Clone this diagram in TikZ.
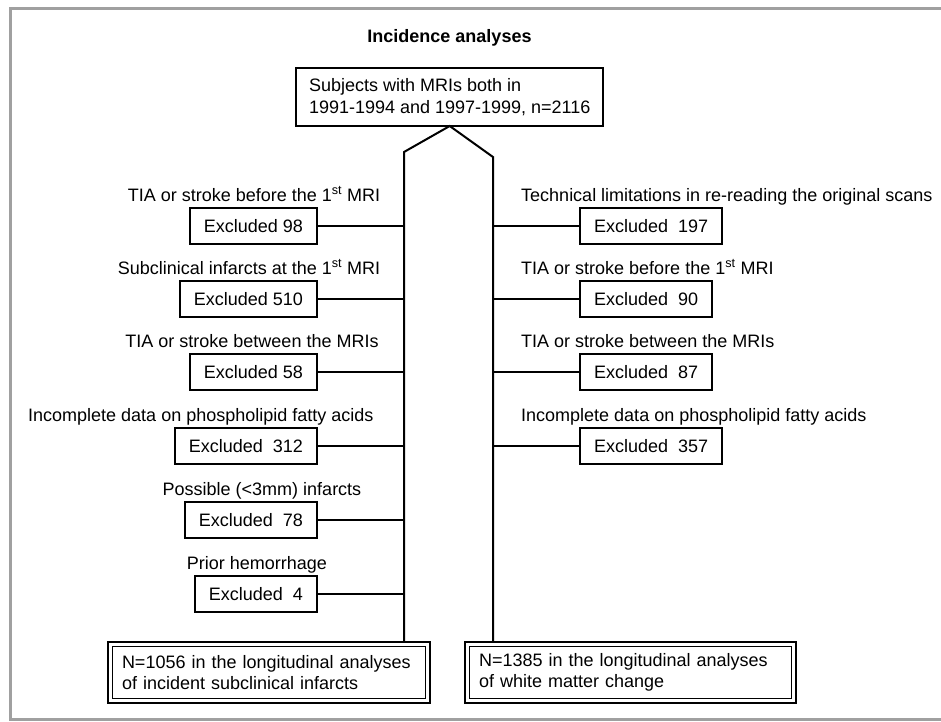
\documentclass[tikz,border=0pt]{standalone}
\usepackage{fontspec}
\setmainfont{Liberation Sans}
\definecolor{framegray}{RGB}{160,160,160}
\tikzset{
  basefont/.style={font=\fontsize{18}{21.5}\selectfont},
  lbl/.style={basefont, inner sep=0pt},
  exbox/.style={basefont, draw, line width=2pt, minimum height=36pt, inner xsep=14pt, inner ysep=0pt, outer sep=0pt},
  conn/.style={line width=2pt},
  bigbox/.style={basefont, draw, line width=2pt, align=left, inner xsep=13pt, anchor=north west, outer sep=0pt},
  endbox/.style={basefont, draw, line width=2pt, align=left, inner xsep=14pt, anchor=north west, outer sep=0pt},
  inner frame/.style={line width=1.4pt}
}
\begin{document}
\begin{tikzpicture}[x=1pt,y=-1pt]
\useasboundingbox (0,0) rectangle (941,721);
\fill[white] (0,0) rectangle (941,721);
% frame
\draw[framegray, line width=3pt] (941,8.5) -- (10.5,8.5) -- (10.5,719.5) -- (941,719.5);

% title
\node[lbl, font=\fontsize{18}{21.5}\selectfont\bfseries, anchor=base] (title) at (449.5,42.5) {Incidence analyses};

% top box
\node[bigbox, minimum height=58pt] (top) at (296,68)
  {Subjects with MRIs both in\\1991-1994 and 1997-1999, n=2116};

% trunk corners
\coordinate (LT) at (404,152);
\coordinate (RT) at (493,157);

% bottom boxes
\node[endbox, minimum width=322pt, minimum height=61pt, text width=294pt] (BL) at (108,642)
  {N=1056 in the longitudinal analyses\\of incident subclinical infarcts};
\node[endbox, minimum width=331pt, minimum height=61pt, text width=303pt] (BR) at (465,642)
  {N=1385 in the longitudinal analyses\\of white matter change};
\draw[inner frame] ([shift={(4.5,4.5)}]BL.north west) rectangle ([shift={(-4.5,-4.5)}]BL.south east);
\draw[inner frame] ([shift={(4.5,4.5)}]BR.north west) rectangle ([shift={(-4.5,-4.5)}]BR.south east);

% trunks
\draw[conn, line join=miter] (LT |- BL.north) -- (LT) -- (top.south) -- (RT) -- (RT |- BR.north);

% left column
\node[exbox, anchor=east] (L1) at (317,226) {Excluded 98};
\node[exbox, anchor=east] (L2) at (317,299) {Excluded 510};
\node[exbox, anchor=east] (L3) at (317,372) {Excluded 58};
\node[exbox, anchor=east] (L4) at (317,446) {Excluded~~312};
\node[exbox, anchor=east] (L5) at (317,520) {Excluded~~78};
\node[exbox, anchor=east] (L6) at (317,594) {Excluded~~4};

\node[lbl, anchor=base] (l1) at (254,201) {TIA or stroke before the 1\textsuperscript{st} MRI};
\node[lbl, anchor=base] (l2) at (249,274) {Subclinical infarcts at the 1\textsuperscript{st} MRI};
\node[lbl, anchor=base] (l3) at (252,347.5) {TIA or stroke between the MRIs};
\node[lbl, anchor=base west] (l4) at (28,421.5) {Incomplete data on phospholipid fatty acids};
\node[lbl, anchor=base] (l5) at (262,495.5) {Possible (<3mm) infarcts};
\node[lbl, anchor=base] (l6) at (257,569) {Prior hemorrhage};

\foreach \n in {L1,L2,L3,L4,L5,L6}{
  \draw[conn] (\n.east) -- (\n.east -| LT);
}

% right column
\node[exbox, anchor=west] (R1) at (580,226) {Excluded~~197};
\node[exbox, anchor=west] (R2) at (580,299) {Excluded~~90};
\node[exbox, anchor=west] (R3) at (580,372) {Excluded~~87};
\node[exbox, anchor=west] (R4) at (580,446) {Excluded~~357};

\node[lbl, anchor=base west] (r1) at (521,201) {Technical limitations in re-reading the original scans};
\node[lbl, anchor=base west] (r2) at (521,274) {TIA or stroke before the 1\textsuperscript{st} MRI};
\node[lbl, anchor=base west] (r3) at (521,347.5) {TIA or stroke between the MRIs};
\node[lbl, anchor=base west] (r4) at (521,421.5) {Incomplete data on phospholipid fatty acids};

\foreach \n in {R1,R2,R3,R4}{
  \draw[conn] (\n.west) -- (\n.west -| RT);
}
\end{tikzpicture}
\end{document}
